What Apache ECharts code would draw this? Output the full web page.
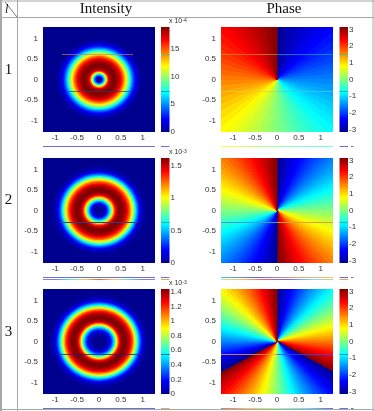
<!DOCTYPE html>
<html>
<head>
<meta charset="utf-8">
<style>
html, body { margin: 0; padding: 0; background: #fff; }
#chart { width: 374px; height: 411px; filter: blur(0.6px); }
</style>
<script src="https://cdn.jsdelivr.net/npm/echarts@6/dist/echarts.min.js"></script>
</head>
<body>
<div id="chart"></div>
<script>
const rowLabels = ['1', '2', '3'];
const columnTitles = ['Intensity', 'Phase'];
const axisTicks = [-1, -0.5, 0, 0.5, 1];

// ring outer radius, inner to outer
const ringRadii = [0.03, 0.06, 0.09, 0.12, 0.15, 0.18, 0.21, 0.24, 0.27, 0.30, 0.33, 0.36, 0.39, 0.42, 0.45, 0.48, 0.51, 0.54, 0.57, 0.60,
    0.63, 0.66, 0.69, 0.72, 0.75, 0.78, 0.81, 0.84, 0.87, 0.90, 0.93, 0.96, 0.99, 1.02, 1.05, 1.08, 1.11, 1.14, 1.17, 1.20];
// intensity read along the radius
const intensity1 = [0, 0.6, 2.3, 5.3, 7.9, 11.7, 14.7, 17, 18.1, 18.5, 18.9, 18.9, 18.9, 18.5, 18.1, 17.6, 16.8, 15.9, 14.7, 13.4,
    12.1, 10.6, 9.1, 7.6, 6, 4.7, 3.4, 2.5, 1.7, 1.1, 0.8, 0.4, 0.2, 0, 0, 0, 0, 0, 0, 0];
const intensity2 = [0, 0, 0.02, 0.05, 0.10, 0.18, 0.29, 0.45, 0.62, 0.84, 1.05, 1.25, 1.41, 1.52, 1.59, 1.62, 1.62, 1.62, 1.59, 1.56,
    1.51, 1.43, 1.34, 1.25, 1.10, 0.97, 0.81, 0.65, 0.49, 0.36, 0.24, 0.16, 0.10, 0.06, 0.03, 0.02, 0, 0, 0, 0];
const intensity3 = [0, 0, 0, 0, 0.01, 0.03, 0.06, 0.10, 0.16, 0.24, 0.36, 0.50, 0.68, 0.88, 1.08, 1.25, 1.35, 1.41, 1.44, 1.44,
    1.44, 1.41, 1.37, 1.31, 1.24, 1.14, 1.01, 0.86, 0.71, 0.55, 0.42, 0.30, 0.20, 0.13, 0.09, 0.04, 0.03, 0.01, 0, 0];

// phase per wedge, clockwise from 12 o'clock
const phase1 = [-3.09, -2.98, -2.88, -2.77, -2.67, -2.57, -2.46, -2.36, -2.25, -2.15, -2.04, -1.94, -1.83, -1.73, -1.62,
    -1.52, -1.41, -1.31, -1.20, -1.10, -0.99, -0.89, -0.79, -0.68, -0.58, -0.47, -0.37, -0.26, -0.16, -0.05,
    0.05, 0.16, 0.26, 0.37, 0.47, 0.58, 0.68, 0.79, 0.89, 0.99, 1.10, 1.20, 1.31, 1.41, 1.52,
    1.62, 1.73, 1.83, 1.94, 2.04, 2.15, 2.25, 2.36, 2.46, 2.57, 2.67, 2.77, 2.88, 2.98, 3.09];
const phase2 = [-3.09, -2.98, -2.88, -2.77, -2.67, -2.57, -2.46, -2.36, -2.25, -2.15, -2.04, -1.94, -1.83, -1.73, -1.62,
    -1.52, -1.41, -1.31, -1.20, -1.10, -0.99, -0.89, -0.79, -0.68, -0.58, -0.47, -0.37, -0.26, -0.16, -0.05,
    0.05, 0.16, 0.26, 0.37, 0.47, 0.58, 0.68, 0.79, 0.89, 0.99, 1.10, 1.20, 1.31, 1.41, 1.52,
    1.62, 1.73, 1.83, 1.94, 2.04, 2.15, 2.25, 2.36, 2.46, 2.57, 2.67, 2.77, 2.88, 2.98, 3.09,
    -3.09, -2.98, -2.88, -2.77, -2.67, -2.57, -2.46, -2.36, -2.25, -2.15, -2.04, -1.94, -1.83, -1.73, -1.62,
    -1.52, -1.41, -1.31, -1.20, -1.10, -0.99, -0.89, -0.79, -0.68, -0.58, -0.47, -0.37, -0.26, -0.16, -0.05,
    0.05, 0.16, 0.26, 0.37, 0.47, 0.58, 0.68, 0.79, 0.89, 0.99, 1.10, 1.20, 1.31, 1.41, 1.52,
    1.62, 1.73, 1.83, 1.94, 2.04, 2.15, 2.25, 2.36, 2.46, 2.57, 2.67, 2.77, 2.88, 2.98, 3.09];
const phase3 = [-3.06, -2.91, -2.75, -2.59, -2.44, -2.28, -2.12, -1.96, -1.81, -1.65, -1.49, -1.34, -1.18, -1.02, -0.86, -0.71, -0.55, -0.39, -0.24, -0.08,
    0.08, 0.24, 0.39, 0.55, 0.71, 0.86, 1.02, 1.18, 1.34, 1.49, 1.65, 1.81, 1.96, 2.12, 2.28, 2.44, 2.59, 2.75, 2.91, 3.06,
    -3.06, -2.91, -2.75, -2.59, -2.44, -2.28, -2.12, -1.96, -1.81, -1.65, -1.49, -1.34, -1.18, -1.02, -0.86, -0.71, -0.55, -0.39, -0.24, -0.08,
    0.08, 0.24, 0.39, 0.55, 0.71, 0.86, 1.02, 1.18, 1.34, 1.49, 1.65, 1.81, 1.96, 2.12, 2.28, 2.44, 2.59, 2.75, 2.91, 3.06,
    -3.06, -2.91, -2.75, -2.59, -2.44, -2.28, -2.12, -1.96, -1.81, -1.65, -1.49, -1.34, -1.18, -1.02, -0.86, -0.71, -0.55, -0.39, -0.24, -0.08,
    0.08, 0.24, 0.39, 0.55, 0.71, 0.86, 1.02, 1.18, 1.34, 1.49, 1.65, 1.81, 1.96, 2.12, 2.28, 2.44, 2.59, 2.75, 2.91, 3.06];

const intensityMax = [18.9, 1.62, 1.44];
const intensityTicks = [[0, 5, 10, 15], [0, 0.5, 1, 1.5], [0, 0.2, 0.4, 0.6, 0.8, 1, 1.2, 1.4]];
const intensityExp = ['-4', '-3', '-3'];
const phaseTicks = [-3, -2, -1, 0, 1, 2, 3];
const phaseMax = 3.14;

const jet = ['#00008f', '#0000ff', '#0080ff', '#00ffff', '#80ff80', '#ffff00', '#ff8000', '#ff0000', '#800000'];

const rowTops = [27, 158, 289];
const plotH = 105;
const plotW = 112;
const extent = 1.28;
const tickFont = { fontFamily: 'Liberation Sans', fontSize: 8, color: '#333' };

const jetColor = (v, min, max) => echarts.color.lerp((v - min) / (max - min), jet);

const grids = [], xAxes = [], yAxes = [], series = [];

function addPanel(left, top, render, data) {
    const i = grids.length;
    grids.push({ left, top, width: plotW, height: plotH, show: true, borderWidth: 0, backgroundColor: '#00008f' });
    xAxes.push({
        gridIndex: i, type: 'value', min: -extent, max: extent, splitLine: { show: false },
        axisLine: { show: false }, axisTick: { show: false },
        axisLabel: { ...tickFont, margin: 2, customValues: axisTicks, hideOverlap: false }
    });
    yAxes.push({
        gridIndex: i, type: 'value', min: -extent, max: extent, splitLine: { show: false },
        axisLine: { show: false }, axisTick: { show: false },
        axisLabel: { ...tickFont, margin: 5, customValues: axisTicks, hideOverlap: false }
    });
    series.push({ type: 'custom', xAxisIndex: i, yAxisIndex: i, clip: true, silent: true, data, renderItem: render });
}

function addColorbar(left, top, min, max, ticks) {
    const i = grids.length;
    grids.push({ left, top, width: 8.5, height: plotH, show: false });
    xAxes.push({ gridIndex: i, type: 'value', min: 0, max: 1, show: false });
    yAxes.push({
        gridIndex: i, type: 'value', position: 'right', min, max, splitLine: { show: false },
        axisLine: { show: false }, axisTick: { show: false },
        axisLabel: { ...tickFont, margin: 1, customValues: ticks, hideOverlap: false }
    });
    series.push({
        type: 'custom', xAxisIndex: i, yAxisIndex: i, silent: true, data: [[0, max]],
        renderItem: (params, api) => {
            const a = api.coord([0, max]);
            const b = api.coord([1, min]);
            return {
                type: 'rect',
                shape: { x: a[0], y: a[1], width: b[0] - a[0], height: b[1] - a[1] },
                style: {
                    fill: new echarts.graphic.LinearGradient(0, 1, 0, 0,
                        jet.map((color, k) => ({ offset: k / (jet.length - 1), color })))
                }
            };
        }
    });
}

const ringRender = (max) => (params, api) => {
    const c = api.coord([0, 0]);
    const size = api.size([api.value(0) * 2, api.value(0) * 2]);
    return {
        type: 'ellipse',
        shape: { cx: c[0], cy: c[1], rx: size[0] / 2, ry: size[1] / 2 },
        style: { fill: jetColor(api.value(1), 0, max) }
    };
};

const wedgeRender = (count) => (params, api) => {
    const step = 2 * Math.PI / count;
    const a0 = api.value(0) * step;
    const a1 = a0 + step;
    const points = [
        api.coord([0, 0]),
        api.coord([2 * Math.sin(a0), 2 * Math.cos(a0)]),
        api.coord([2 * Math.sin(a1), 2 * Math.cos(a1)])
    ];
    const fill = jetColor(api.value(1), -phaseMax, phaseMax);
    // stroke covers the seam against the next wedge
    return { type: 'polygon', shape: { points }, style: { fill, stroke: fill, lineWidth: 1, lineJoin: 'bevel' } };
};

[intensity1, intensity2, intensity3].forEach((vals, r) => {
    // biggest ring first so the inner ones paint over it
    const data = vals.map((v, k) => [ringRadii[k], v]).reverse();
    addPanel(43, rowTops[r], ringRender(intensityMax[r]), data);
    addColorbar(161, rowTops[r], 0, intensityMax[r], intensityTicks[r]);
});
[phase1, phase2, phase3].forEach((vals, r) => {
    addPanel(221, rowTops[r], wedgeRender(vals.length), vals.map((v, k) => [k, v]));
    addColorbar(339.5, rowTops[r], -phaseMax, phaseMax, phaseTicks);
});

const hGrad = (stops) => new echarts.graphic.LinearGradient(0, 0, 1, 0,
    stops.map((color, k) => ({ offset: k / (stops.length - 1), color })));
const seg = (x1, y1, x2, y2, stroke, lineWidth = 1) =>
    ({ type: 'line', z: 10, shape: { x1, y1, x2, y2 }, style: { stroke, lineWidth } });
const label = (x, y, text, font, extra) =>
    ({ type: 'text', z: 11, x, y, style: { text, ...font, fill: font.fill || '#111', ...extra } });

const border = '#a8a8a8';
const serif = { fontFamily: 'Liberation Serif', fontSize: 15 };
const graphics = [
    // table
    seg(1, 0, 1, 411, border, 2), seg(17.5, 0, 17.5, 411, border, 1),
    seg(0, 1, 374, 1, border, 1), seg(0, 17.5, 374, 17.5, border, 1),
    seg(373, 0, 373, 411, border, 1), seg(0, 409.5, 374, 409.5, border, 1),
    seg(5, 2, 17, 17, '#555', 0.8),
    label(5, 4, 'l', { fontFamily: 'Liberation Serif', fontSize: 12, fontStyle: 'italic' }),
    label(106, 9, columnTitles[0], serif, { align: 'center', verticalAlign: 'middle' }),
    label(284, 9, columnTitles[1], serif, { align: 'center', verticalAlign: 'middle' }),
    // scan lines left in the bitmap
    seg(62, 54.5, 133, 54.5, '#c87850', 0.7), seg(68, 91.5, 130, 91.5, '#204070', 0.7),
    seg(161, 54.5, 169.5, 54.5, '#40c0a0', 0.7), seg(161, 91.5, 169.5, 91.5, '#108080', 0.7),
    seg(221, 54.5, 277, 54.5, '#e09020', 0.7), seg(277, 54.5, 333, 54.5, '#10a0d0', 0.7),
    seg(221, 91.5, 277, 91.5, '#e0d040', 0.7), seg(277, 91.5, 333, 91.5, '#40d0e0', 0.7),
    seg(339.5, 54.5, 348, 54.5, '#30c0a0', 0.7), seg(339.5, 91.5, 348, 91.5, '#109090', 0.7),
    seg(60, 222.5, 138, 222.5, '#304080', 1.2), seg(161, 222.5, 169.5, 222.5, '#30b0b0', 1.2),
    seg(221, 222.5, 277, 222.5, '#30a0d8', 1.2), seg(277, 222.5, 333, 222.5, '#e0a030', 1.2),
    seg(339.5, 222.5, 348, 222.5, '#30b0b0', 1.2),
    seg(55, 354.5, 142, 354.5, '#20207a', 0.8), seg(161, 354.5, 169.5, 354.5, '#0040a0', 0.8),
    seg(221, 354.5, 277, 354.5, '#f0a030', 0.8), seg(277, 354.5, 333, 354.5, '#4040f0', 0.8),
    seg(339.5, 354.5, 348, 354.5, '#0070d0', 0.8),
    // stray rows under the panels
    seg(43, 146.5, 155, 146.5, '#7070d8'), seg(161, 146.5, 169.5, 146.5, '#7070d8'),
    seg(221, 146.5, 333, 146.5, hGrad(['#ffff40', '#a0ffa0', '#60ffff'])), seg(339.5, 146.5, 348, 146.5, '#7070d8'), seg(351, 146.5, 353.5, 146.5, '#777'),
    seg(43, 277.5, 155, 277.5, '#7070d8'), seg(161, 277.5, 169.5, 277.5, '#7070d8'),
    seg(43, 279.5, 155, 279.5, hGrad(['#8080e0', '#8080e0', '#60e0e0', '#f0d060', '#e06050', '#f0d060', '#60e0e0', '#8080e0', '#8080e0'])), seg(161, 279.5, 169.5, 279.5, '#f0a060'),
    seg(221, 277.5, 333, 277.5, hGrad(['#60c0ff', '#6060f0', '#f0a060', '#ffc080'])), seg(339.5, 277.5, 348, 277.5, '#7070d8'), seg(351, 277.5, 353.5, 277.5, '#777'),
    seg(221, 279.5, 333, 279.5, hGrad(['#a0ffa0', '#ffc060', '#f06060', '#7070f0', '#70e0ff', '#ffc060'])), seg(339.5, 279.5, 348, 279.5, '#f0a060'),
    seg(43, 408.5, 155, 408.5, '#7070d8'), seg(161, 408.5, 169.5, 408.5, '#f0a060'),
    seg(221, 408.5, 333, 408.5, hGrad(['#f06060', '#ffc060', '#a0ffa0', '#60e0ff', '#6060f0'])), seg(339.5, 408.5, 348, 408.5, '#7070d8'), seg(351, 408.5, 353.5, 408.5, '#777')
];

rowLabels.forEach((t, r) => {
    graphics.push(label(8.5, [70, 200, 332][r], t, serif, { align: 'center', verticalAlign: 'middle' }));
    graphics.push(label(169, rowTops[r] - 9, '', {}, {
        text: 'x 10{sup|' + intensityExp[r] + '}',
        fontFamily: 'Liberation Sans', fontSize: 7, fill: '#333',
        rich: { sup: { fontSize: 5, verticalAlign: 'top', fontFamily: 'Liberation Sans', fill: '#333' } }
    }));
});

const chart = echarts.init(document.getElementById('chart'));
chart.setOption({
    animation: false,
    backgroundColor: '#fff',
    grid: grids,
    xAxis: xAxes,
    yAxis: yAxes,
    series,
    graphic: graphics
});
</script>
</body>
</html>
